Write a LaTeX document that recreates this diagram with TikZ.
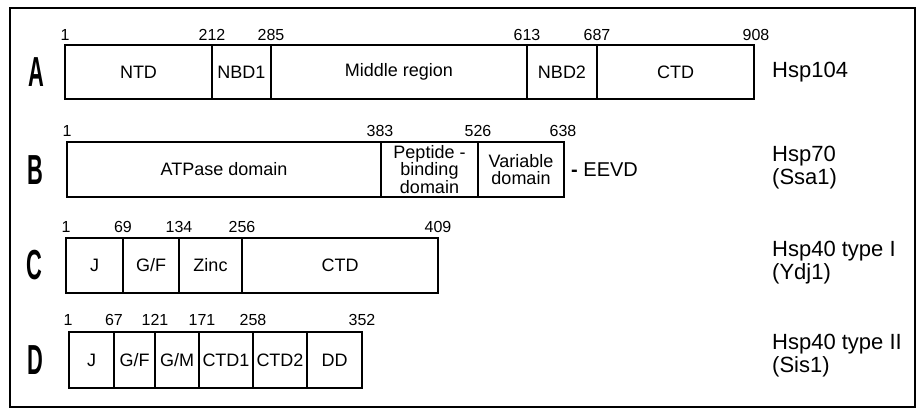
\documentclass[tikz,border=0pt]{standalone}
\usepackage{fontspec}
\setmainfont{Liberation Sans}
\begin{document}
\begin{tikzpicture}[x=1pt,y=-1pt,
  dom/.style={draw=black, line width=2.6pt, inner sep=0pt, outer sep=0pt,
    font=\fontsize{18}{17.5}\selectfont, align=center},
  num/.style={inner sep=0pt, font=\fontsize{16}{16}\selectfont},
  prot/.style={inner sep=0pt, anchor=west, align=left, font=\fontsize{22}{23}\selectfont},
  rowlab/.style={inner sep=0pt, font=\fontsize{42}{42}\bfseries\selectfont}
]
\useasboundingbox (0,0) rectangle (921,409);
\draw[line width=2pt] (9.5,8.5) rectangle (914.5,406.5);

% Row letters
\node[rowlab] (la) at (36,72) {\scalebox{0.52}[1]{A}};
\node[rowlab] (lb) at (35,170) {\scalebox{0.52}[1]{B}};
\node[rowlab] (lc) at (34.5,265) {\scalebox{0.52}[1]{C}};
\node[rowlab] (ld) at (35,360) {\scalebox{0.52}[1]{D}};

% Row A
\node[dom, minimum width=147pt, minimum height=54pt] (ntd) at (138.5,72) {NTD};
\node[dom, minimum width=59pt, minimum height=54pt] (nbd1) at (241.5,72) {NBD1};
\node[dom, minimum width=256pt, minimum height=54pt] (mid) at (399,72) {Middle region};
\node[dom, minimum width=70pt, minimum height=54pt] (nbd2) at (562,72) {NBD2};
\node[dom, minimum width=157pt, minimum height=54pt] (ctda) at (675.5,72) {CTD};
\node[num] (a1) at (65,35) {1};
\node[num] (a212) at (212,35) {212};
\node[num] (a285) at (271,35) {285};
\node[num] (a613) at (527,35) {613};
\node[num] (a687) at (597,35) {687};
\node[num] (a908) at (756,35) {908};
\node[prot] (hsp104) at (772,72) {Hsp104};

% Row B
\node[dom, minimum width=314pt, minimum height=55pt] (atp) at (224,169.5) {ATPase domain};
\node[dom, minimum width=97pt, minimum height=55pt] (pbd) at (429.5,169.5) {Peptide -\\binding\\domain};
\node[dom, minimum width=86pt, minimum height=55pt] (var) at (521,169.5) {Variable\\domain};
\node[num] (b1) at (67,131) {1};
\node[num] (b383) at (380,131) {383};
\node[num] (b526) at (478,131) {526};
\node[num] (b638) at (563,131) {638};
\node[inner sep=0pt, anchor=west, font=\fontsize{20}{20}\selectfont] (eevd) at (571,170) {\textbf{-} EEVD};
\node[prot] (hsp70) at (772,167.5) {Hsp70\\(Ssa1)};

% Row C
\node[dom, minimum width=57pt, minimum height=55pt] (jc) at (94.5,265.5) {J};
\node[dom, minimum width=56pt, minimum height=55pt] (gfc) at (151,265.5) {G/F};
\node[dom, minimum width=63pt, minimum height=55pt] (zinc) at (210.5,265.5) {Zinc};
\node[dom, minimum width=196pt, minimum height=55pt] (ctdc) at (340,265.5) {CTD};
\node[num] (c1) at (66,227) {1};
\node[num] (c69) at (123,227) {69};
\node[num] (c134) at (179,227) {134};
\node[num] (c256) at (242,227) {256};
\node[num] (c409) at (438,227) {409};
\node[prot] (hsp40a) at (772,263) {Hsp40 type I\\(Ydj1)};

% Row D
\node[dom, minimum width=45pt, minimum height=56pt] (jd) at (91.5,360) {J};
\node[dom, minimum width=41pt, minimum height=56pt] (gfd) at (134.5,360) {G/F};
\node[dom, minimum width=44pt, minimum height=56pt] (gm) at (177,360) {G/M};
\node[dom, minimum width=54pt, minimum height=56pt] (ctd1) at (226,360) {CTD1};
\node[dom, minimum width=54pt, minimum height=56pt] (ctd2) at (280,360) {CTD2};
\node[dom, minimum width=55pt, minimum height=56pt] (dd) at (334.5,360) {DD};
\node[num] (d1) at (68,320) {1};
\node[num] (d67) at (114,320) {67};
\node[num] (d121) at (155,320) {121};
\node[num] (d171) at (202,320) {171};
\node[num] (d258) at (253,320) {258};
\node[num] (d352) at (362,320) {352};
\node[prot] (hsp40b) at (772,356) {Hsp40 type II\\(Sis1)};
\end{tikzpicture}
\end{document}
